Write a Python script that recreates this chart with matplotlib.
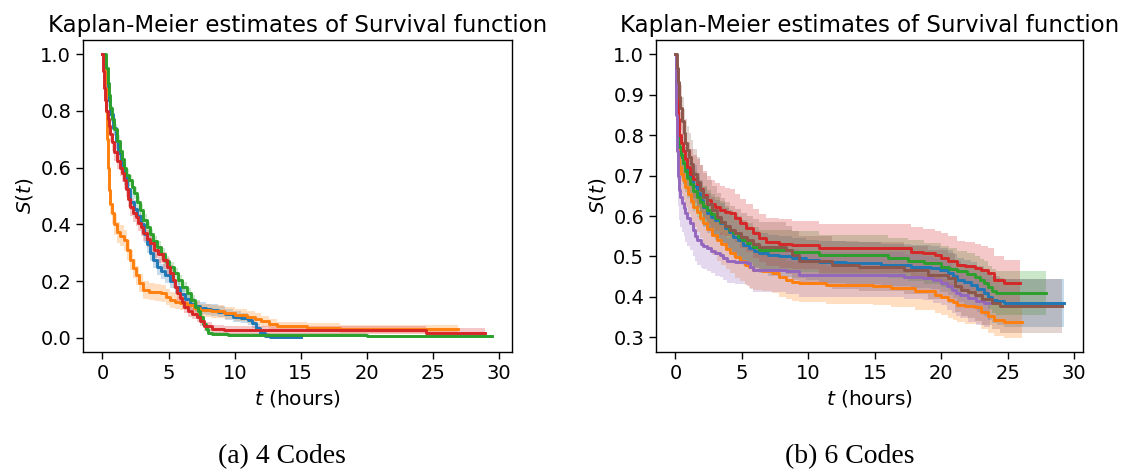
import matplotlib
matplotlib.use("Agg")
import numpy as np
import matplotlib.pyplot as plt

# ------------------------------------------------------------
# Kaplan-Meier estimates: step knots (t, S) and CI half-widths
# ------------------------------------------------------------
# Panel (a): 4 codes
a_blue_t = [0, 0.15, 0.3, 0.45, 0.6, 0.8, 1.0, 1.2, 1.4, 1.6,
            1.85, 2.1, 2.35, 2.6, 2.9, 3.15, 3.4, 3.6, 3.85, 4.1,
            4.4, 4.75, 5.1, 5.5, 5.9, 6.25, 6.6, 7.0, 7.4, 7.8,
            8.2, 8.7, 9.3, 9.9, 10.5, 11.0, 11.3, 11.6, 11.9, 12.3,
            12.7, 15.0]
a_blue_s = [1.0, 0.96, 0.90, 0.84, 0.79, 0.74, 0.695, 0.65, 0.61, 0.57,
            0.525, 0.48, 0.455, 0.43, 0.40, 0.365, 0.33, 0.30, 0.275, 0.25,
            0.235, 0.22, 0.20, 0.178, 0.155, 0.137, 0.12, 0.112, 0.105, 0.1,
            0.098, 0.092, 0.083, 0.075, 0.07, 0.062, 0.052, 0.035, 0.017, 0.008,
            0.003, 0.003]
a_blue_ci = [0, 0.015, 0.02, 0.025, 0.028, 0.03, 0.03, 0.03, 0.03, 0.03,
             0.03, 0.03, 0.03, 0.03, 0.03, 0.03, 0.03, 0.03, 0.028, 0.027,
             0.026, 0.025, 0.025, 0.024, 0.023, 0.022, 0.021, 0.02, 0.02, 0.02,
             0.02, 0.019, 0.019, 0.018, 0.017, 0.016, 0.016, 0.014, 0.012, 0.008,
             0.006, 0.006]

a_orange_t = [0, 0.08, 0.16, 0.24, 0.32, 0.4, 0.48, 0.6, 0.73, 0.9,
              1.1, 1.35, 1.6, 1.85, 2.1, 2.3, 2.5, 2.75, 3.1, 3.5,
              4.0, 4.4, 4.8, 5.1, 5.5, 5.9, 6.4, 6.9, 7.4, 8.2,
              9.2, 10.0, 10.9, 11.5, 12.0, 12.6, 13.2, 15.5, 18.0, 26.9]
a_orange_s = [1.0, 0.95, 0.88, 0.80, 0.70, 0.60, 0.52, 0.47, 0.44, 0.40,
              0.373, 0.36, 0.344, 0.31, 0.274, 0.245, 0.22, 0.193, 0.168, 0.163,
              0.16, 0.158, 0.145, 0.133, 0.128, 0.123, 0.115, 0.105, 0.098, 0.093,
              0.088, 0.082, 0.075, 0.066, 0.058, 0.048, 0.040, 0.036, 0.032, 0.032]
a_orange_ci = [0, 0.02, 0.025, 0.03, 0.03, 0.035, 0.035, 0.035, 0.037, 0.037,
               0.037, 0.037, 0.037, 0.036, 0.035, 0.034, 0.033, 0.032, 0.031, 0.03,
               0.03, 0.03, 0.028, 0.027, 0.027, 0.026, 0.025, 0.024, 0.023, 0.022,
               0.022, 0.021, 0.021, 0.02, 0.019, 0.018, 0.016, 0.016, 0.015, 0.015]

a_green_t = [0, 0.2, 0.3, 0.4, 0.5, 0.6, 0.75, 0.9, 1.1, 1.3,
             1.45, 1.6, 1.8, 2.0, 2.2, 2.4, 2.6, 2.85, 3.1, 3.35,
             3.6, 3.85, 4.1, 4.4, 4.7, 5.0, 5.4, 5.7, 6.0, 6.4,
             6.7, 7.0, 7.2, 7.4, 7.6, 7.8, 8.0, 8.3, 9.5, 20.0,
             29.5]
a_green_s = [1.0, 1.0, 0.95, 0.9, 0.855, 0.81, 0.77, 0.735, 0.695, 0.66,
             0.63, 0.60, 0.575, 0.555, 0.53, 0.51, 0.48, 0.45, 0.415, 0.39,
             0.365, 0.34, 0.32, 0.295, 0.27, 0.25, 0.227, 0.205, 0.18, 0.157,
             0.135, 0.11, 0.095, 0.075, 0.05, 0.03, 0.018, 0.012, 0.01, 0.005,
             0.005]
a_green_ci = [0, 0, 0.015, 0.018, 0.02, 0.02, 0.02, 0.02, 0.02, 0.02,
              0.02, 0.02, 0.02, 0.02, 0.02, 0.02, 0.02, 0.02, 0.02, 0.02,
              0.02, 0.02, 0.02, 0.02, 0.019, 0.019, 0.018, 0.018, 0.017, 0.017,
              0.016, 0.015, 0.014, 0.013, 0.012, 0.01, 0.008, 0.007, 0.006, 0.004,
              0.004]

a_red_t = [0, 0.05, 0.1, 0.2, 0.3, 0.4, 0.5, 0.6, 0.75, 0.9,
           1.1, 1.3, 1.45, 1.6, 1.8, 1.95, 2.1, 2.3, 2.5, 2.7,
           2.9, 3.1, 3.35, 3.6, 3.9, 4.2, 4.6, 4.85, 5.1, 5.3,
           5.5, 5.65, 5.85, 6.0, 6.15, 6.5, 6.8, 7.15, 7.4, 7.65,
           8.3, 9.2, 24.5, 28.9]
a_red_s = [1.0, 0.94, 0.88, 0.84, 0.80, 0.77, 0.745, 0.72, 0.69, 0.655,
           0.625, 0.6, 0.58, 0.555, 0.525, 0.49, 0.46, 0.44, 0.425, 0.405,
           0.39, 0.37, 0.35, 0.333, 0.31, 0.295, 0.274, 0.25, 0.227, 0.205,
           0.18, 0.157, 0.14, 0.125, 0.11, 0.095, 0.085, 0.075, 0.06, 0.04,
           0.032, 0.028, 0.018, 0.018]
a_red_ci = [0, 0.02, 0.025, 0.03, 0.03, 0.03, 0.03, 0.03, 0.03, 0.03,
            0.03, 0.03, 0.03, 0.03, 0.03, 0.03, 0.03, 0.03, 0.03, 0.03,
            0.03, 0.03, 0.03, 0.03, 0.03, 0.03, 0.03, 0.03, 0.028, 0.028,
            0.027, 0.026, 0.025, 0.024, 0.023, 0.021, 0.02, 0.02, 0.018, 0.016,
            0.015, 0.014, 0.015, 0.015]

# Panel (b): 6 codes
b_blue_t = [0, 0.05, 0.1, 0.2, 0.3, 0.45, 0.6, 0.75, 0.9, 1.1,
            1.35, 1.6, 1.85, 2.1, 2.36, 2.7, 3.0, 3.35, 3.7, 4.0,
            4.35, 4.7, 5.1, 5.5, 5.9, 6.3, 7.0, 7.8, 8.8, 9.8,
            10.8, 12.8, 15.5, 17.7, 19.2, 19.9, 20.5, 20.9, 21.2, 21.7,
            22.2, 22.7, 23.2, 23.5, 23.8, 24.2, 24.7, 29.2]
b_blue_s = [1.0, 0.92, 0.85, 0.8, 0.77, 0.745, 0.73, 0.72, 0.708, 0.695,
            0.675, 0.656, 0.64, 0.622, 0.607, 0.598, 0.59, 0.582, 0.57, 0.56,
            0.549, 0.54, 0.528, 0.52, 0.513, 0.508, 0.503, 0.5, 0.496, 0.491,
            0.487, 0.483, 0.479, 0.475, 0.472, 0.466, 0.46, 0.452, 0.442, 0.436,
            0.43, 0.42, 0.41, 0.4, 0.393, 0.389, 0.386, 0.386]
b_blue_ci = [0, 0.04, 0.045, 0.048, 0.05, 0.05, 0.05, 0.05, 0.05, 0.05,
             0.05, 0.05, 0.05, 0.05, 0.05, 0.05, 0.05, 0.05, 0.05, 0.05,
             0.05, 0.05, 0.05, 0.05, 0.05, 0.05, 0.05, 0.05, 0.05, 0.05,
             0.052, 0.052, 0.052, 0.053, 0.053, 0.054, 0.055, 0.055, 0.055, 0.056,
             0.056, 0.057, 0.057, 0.058, 0.058, 0.059, 0.059, 0.059]

b_orange_t = [0, 0.05, 0.1, 0.2, 0.3, 0.45, 0.6, 0.75, 0.95, 1.15,
              1.36, 1.6, 1.85, 2.1, 2.4, 2.75, 3.1, 3.45, 3.8, 4.1,
              4.45, 4.84, 5.2, 5.5, 5.84, 6.5, 7.3, 7.8, 8.3, 8.8,
              9.3, 11.3, 14.9, 16.2, 18.0, 19.5, 20.0, 20.5, 20.9, 21.2,
              21.8, 22.5, 23.0, 23.5, 24.0, 24.7, 26.1]
b_orange_s = [1.0, 0.88, 0.8, 0.75, 0.72, 0.705, 0.69, 0.672, 0.655, 0.638,
              0.622, 0.61, 0.595, 0.582, 0.568, 0.553, 0.54, 0.53, 0.518, 0.508,
              0.498, 0.49, 0.48, 0.473, 0.467, 0.463, 0.46, 0.45, 0.442, 0.438,
              0.435, 0.43, 0.426, 0.422, 0.414, 0.405, 0.4, 0.393, 0.387, 0.381,
              0.377, 0.374, 0.363, 0.352, 0.343, 0.337, 0.337]
b_orange_ci = [0, 0.04, 0.045, 0.048, 0.05, 0.05, 0.05, 0.05, 0.05, 0.05,
               0.05, 0.05, 0.05, 0.05, 0.05, 0.05, 0.05, 0.05, 0.05, 0.05,
               0.05, 0.05, 0.05, 0.05, 0.05, 0.049, 0.049, 0.049, 0.048, 0.048,
               0.048, 0.047, 0.047, 0.046, 0.046, 0.045, 0.045, 0.044, 0.044, 0.043,
               0.043, 0.042, 0.041, 0.04, 0.039, 0.038, 0.038]

b_green_t = [0, 0.05, 0.1, 0.2, 0.3, 0.45, 0.6, 0.75, 0.9, 1.1,
             1.35, 1.6, 1.85, 2.1, 2.36, 2.7, 3.0, 3.35, 3.7, 4.0,
             4.35, 4.7, 5.0, 5.35, 5.8, 6.3, 8.8, 10.8, 16.0, 17.5,
             18.7, 20.0, 20.6, 21.2, 21.9, 22.5, 22.9, 23.2, 23.5, 23.8,
             24.1, 27.9]
b_green_s = [1.0, 0.92, 0.85, 0.8, 0.77, 0.75, 0.73, 0.71, 0.695, 0.68,
             0.662, 0.647, 0.635, 0.625, 0.614, 0.605, 0.596, 0.586, 0.575, 0.566,
             0.557, 0.549, 0.541, 0.533, 0.524, 0.516, 0.512, 0.504, 0.496, 0.49,
             0.483, 0.475, 0.469, 0.463, 0.456, 0.45, 0.443, 0.435, 0.424, 0.414,
             0.41, 0.41]
b_green_ci = [0, 0.04, 0.045, 0.048, 0.05, 0.05, 0.05, 0.05, 0.05, 0.05,
              0.05, 0.05, 0.05, 0.05, 0.05, 0.05, 0.05, 0.05, 0.05, 0.05,
              0.05, 0.05, 0.05, 0.05, 0.05, 0.05, 0.05, 0.05, 0.05, 0.05,
              0.05, 0.051, 0.051, 0.051, 0.052, 0.052, 0.052, 0.053, 0.053, 0.054,
              0.054, 0.054]

b_red_t = [0, 0.05, 0.1, 0.2, 0.3, 0.45, 0.6, 0.75, 0.9, 1.1,
           1.35, 1.6, 1.85, 2.1, 2.36, 2.7, 3.0, 3.35, 3.7, 4.1,
           4.45, 4.84, 5.3, 5.8, 6.3, 6.8, 7.8, 8.8, 10.8, 17.7,
           18.6, 19.5, 20.0, 20.5, 21.2, 21.8, 22.5, 23.0, 23.5, 23.95,
           24.7, 25.9]
b_red_s = [1.0, 0.94, 0.88, 0.84, 0.8, 0.78, 0.76, 0.74, 0.722, 0.705,
           0.692, 0.68, 0.667, 0.652, 0.639, 0.63, 0.622, 0.614, 0.61, 0.607,
           0.595, 0.582, 0.57, 0.557, 0.546, 0.536, 0.532, 0.528, 0.52, 0.512,
           0.508, 0.503, 0.497, 0.49, 0.479, 0.476, 0.472, 0.466, 0.46, 0.442,
           0.435, 0.435]
b_red_ci = [0, 0.04, 0.05, 0.055, 0.058, 0.06, 0.06, 0.06, 0.06, 0.06,
            0.06, 0.06, 0.06, 0.06, 0.06, 0.06, 0.06, 0.06, 0.06, 0.06,
            0.06, 0.06, 0.06, 0.06, 0.06, 0.06, 0.06, 0.06, 0.06, 0.06,
            0.06, 0.06, 0.06, 0.06, 0.06, 0.06, 0.06, 0.06, 0.06, 0.058,
            0.057, 0.057]

b_purple_t = [0, 0.05, 0.1, 0.2, 0.3, 0.37, 0.5, 0.62, 0.75, 0.9,
              1.1, 1.3, 1.45, 1.6, 1.9, 2.1, 2.36, 2.7, 3.0, 3.35,
              3.6, 3.85, 4.5, 5.35, 5.6, 5.84, 8.3, 9.3, 17.2, 18.6,
              19.4, 20.0, 20.4, 20.8, 21.1, 21.4, 22.0, 22.6, 23.2, 23.7]
b_purple_s = [1.0, 0.85, 0.76, 0.7, 0.665, 0.647, 0.632, 0.62, 0.607, 0.595,
              0.582, 0.565, 0.55, 0.54, 0.53, 0.525, 0.52, 0.513, 0.508, 0.504,
              0.497, 0.49, 0.487, 0.483, 0.475, 0.467, 0.463, 0.455, 0.45, 0.447,
              0.441, 0.435, 0.426, 0.418, 0.411, 0.405, 0.397, 0.389, 0.386, 0.386]
b_purple_ci = [0, 0.06, 0.07, 0.075, 0.075, 0.075, 0.072, 0.07, 0.07, 0.068,
               0.066, 0.064, 0.062, 0.06, 0.058, 0.057, 0.056, 0.055, 0.055, 0.055,
               0.055, 0.055, 0.055, 0.055, 0.055, 0.055, 0.055, 0.055, 0.055, 0.055,
               0.056, 0.056, 0.057, 0.057, 0.058, 0.058, 0.058, 0.059, 0.059, 0.059]

b_brown_t = [0, 0.1, 0.2, 0.3, 0.37, 0.5, 0.62, 0.75, 0.87, 1.0,
             1.15, 1.36, 1.6, 1.85, 2.1, 2.4, 2.75, 3.1, 3.45, 3.75,
             4.1, 4.5, 4.9, 5.35, 5.8, 6.3, 8.3, 8.8, 9.3, 11.8,
             13.8, 17.2, 19.0, 20.5, 21.0, 21.5, 22.0, 22.5, 23.1, 23.8,
             24.4, 29.1]
b_brown_s = [1.0, 0.965, 0.93, 0.895, 0.868, 0.835, 0.805, 0.78, 0.762, 0.745,
             0.728, 0.705, 0.685, 0.665, 0.647, 0.63, 0.614, 0.598, 0.585, 0.575,
             0.565, 0.557, 0.548, 0.54, 0.532, 0.524, 0.516, 0.503, 0.49, 0.479,
             0.475, 0.467, 0.455, 0.447, 0.426, 0.418, 0.412, 0.405, 0.396, 0.386,
             0.378, 0.378]
b_brown_ci = [0, 0.035, 0.045, 0.05, 0.055, 0.058, 0.06, 0.06, 0.06, 0.06,
              0.06, 0.06, 0.06, 0.06, 0.06, 0.06, 0.06, 0.06, 0.06, 0.06,
              0.06, 0.06, 0.06, 0.06, 0.06, 0.06, 0.06, 0.06, 0.06, 0.06,
              0.06, 0.06, 0.061, 0.062, 0.063, 0.064, 0.064, 0.065, 0.065, 0.066,
              0.066, 0.066]

panel_a = [
    (a_blue_t, a_blue_s, a_blue_ci, "C0"),
    (a_orange_t, a_orange_s, a_orange_ci, "C1"),
    (a_green_t, a_green_s, a_green_ci, "C2"),
    (a_red_t, a_red_s, a_red_ci, "C3"),
]
panel_b = [
    (b_blue_t, b_blue_s, b_blue_ci, "C0"),
    (b_orange_t, b_orange_s, b_orange_ci, "C1"),
    (b_green_t, b_green_s, b_green_ci, "C2"),
    (b_red_t, b_red_s, b_red_ci, "C3"),
    (b_purple_t, b_purple_s, b_purple_ci, "C4"),
    (b_brown_t, b_brown_s, b_brown_ci, "C5"),
]
captions = ["(a) 4 Codes", "(b) 6 Codes"]

# ------------------------------------------------------------
# Plot
# ------------------------------------------------------------
fig = plt.figure(figsize=(11.26, 4.75), dpi=100)
ax_a = fig.add_axes([0.0737, 0.2589, 0.381, 0.657])
ax_b = fig.add_axes([0.5826, 0.2589, 0.3792, 0.657])

for ax, series, cap, cx in [(ax_a, panel_a, captions[0], 0.2504),
                            (ax_b, panel_b, captions[1], 0.755)]:
    for t, s, ci, c in series:
        s = np.asarray(s)
        ci = np.asarray(ci)
        lo = np.clip(s - ci, 0, 1)
        hi = np.clip(s + ci, 0, 1)
        ax.plot(t, s, drawstyle="steps-post", color=c, linewidth=2.1)
        ax.fill_between(t, lo, hi, step="post", color=c, alpha=0.25, linewidth=0)

    ax.set_title("Kaplan-Meier estimates of Survival function", fontsize=16.5)
    ax.set_xlabel(r"$t$ (hours)", fontsize=14.5)
    ax.set_ylabel(r"$S(t)$", fontsize=14.5)
    ax.tick_params(labelsize=14, width=1.0, length=5)
    for sp in ax.spines.values():
        sp.set_linewidth(1.0)

    fig.text(cx, 0.038, cap, ha="center", va="center",
             family=["Liberation Serif", "DejaVu Serif"], fontsize=20)

fig.savefig("out.png", dpi=100)
